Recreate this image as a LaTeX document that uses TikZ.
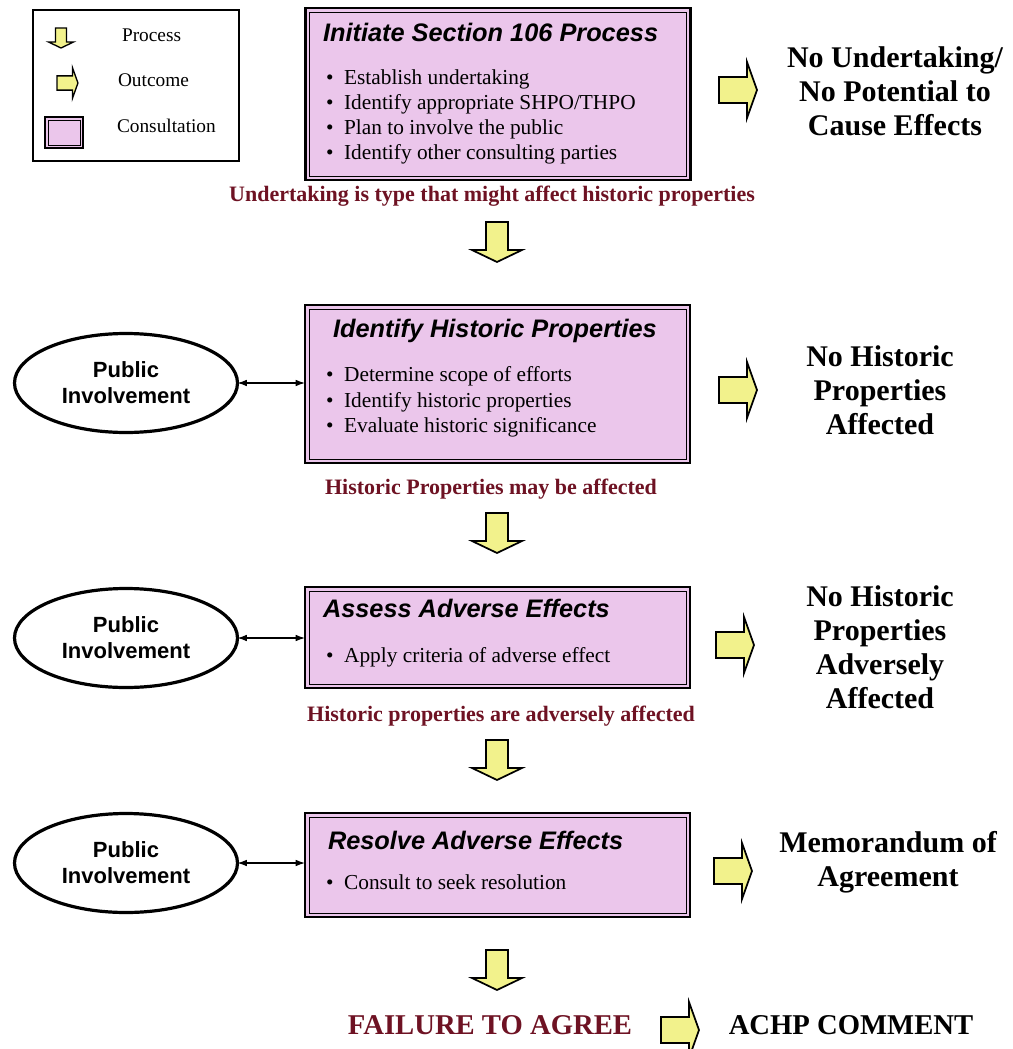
\documentclass[tikz,border=0pt]{standalone}
\usepackage{fontspec}
\setmainfont{Liberation Serif}
\setsansfont{Liberation Sans}
\usetikzlibrary{shapes.geometric,arrows.meta}
\definecolor{boxpink}{RGB}{235,198,235}
\definecolor{maroon}{RGB}{110,18,35}
\definecolor{arrowyel}{RGB}{242,242,140}
\begin{document}
\begin{tikzpicture}[x=0.75pt,y=-0.75pt,
  every node/.style={inner sep=0pt, outer sep=0pt},
  consult/.style={draw, line width=2.2pt, fill=boxpink, minimum width=385*0.75pt},
  ttl/.style={font=\sffamily\bfseries\itshape\fontsize{19}{22}\selectfont, anchor=west, text height=0.72em, text depth=0pt},
  blt/.style={font=\fontsize{16}{19}\selectfont, anchor=west, text height=0.62em, text depth=0pt},
  lbl/.style={font=\bfseries\fontsize{16.5}{19}\selectfont, text=maroon, text height=0.62em, text depth=0pt},
  outc/.style={font=\bfseries\fontsize{22.5}{25.5}\selectfont, align=center},
  pub/.style={ellipse, draw, line width=2.4pt, minimum width=223*0.75pt, minimum height=99*0.75pt, align=center, font=\sffamily\bfseries\fontsize{16.5}{19.5}\selectfont},
  link/.style={{Latex[length=7pt,width=5pt]}-{Latex[length=7pt,width=5pt]}, line width=0.9pt},
  leg/.style={font=\fontsize{14.5}{17}\selectfont, anchor=west, text height=0.66em, text depth=0pt},
  big/.style={font=\bfseries\fontsize{21.5}{24}\selectfont, text height=0.66em, text depth=0pt},
  downarrow/.pic={\draw[fill=arrowyel, line join=miter] (-11,0) -- (11,0) -- (11,28) -- (25,28) -- (0,40) -- (-25,28) -- (-11,28) -- cycle;},
  outarrow/.pic={\draw[fill=arrowyel, line join=miter] (-19,-13) -- (9,-13) -- (9,-28) -- (19,0) -- (9,28) -- (9,13) -- (-19,13) -- cycle;},
]
\useasboundingbox (0,0) rectangle (1013,1049);

% legend
\node[draw, line width=2pt, minimum width=206*0.75pt, minimum height=151*0.75pt] (legend) at (136,85.5) {};
\pic[scale=0.5, line width=1pt] at (61,28) {downarrow};
\pic[scale=0.55, line width=1pt] at (67.5,83) {outarrow};
\node[draw, line width=1.5pt, fill=boxpink, minimum width=38*0.75pt, minimum height=31*0.75pt] (ci) at (64,132.5) {};
\draw[line width=0.5pt] ([shift={(3,3)}]ci.north west) rectangle ([shift={(-3,-3)}]ci.south east);
\node[leg] (lp) at (122,37) {Process};
\node[leg] (lo) at (118,82) {Outcome};
\node[leg] (lc) at (117,128) {Consultation};

% consultation boxes
\node[consult, minimum height=172*0.75pt] (b1) at (498,94) {};
\node[consult, minimum height=158*0.75pt] (b2) at (497.5,384) {};
\node[consult, minimum height=101*0.75pt] (b3) at (497.5,637.5) {};
\node[consult, minimum height=104*0.75pt] (b4) at (497.5,865) {};
\foreach \b in {b1,b2,b3,b4}{
  \draw[line width=0.7pt] ([shift={(4,4)}]\b.north west) rectangle ([shift={(-4,-4)}]\b.south east);
}

\node[ttl] (t1) at (323,37) {Initiate Section 106 Process};
\node[blt] (b1a) at (326,80) {\textbullet\hspace{0.5em}Establish undertaking};
\node[blt] (b1b) at (326,105) {\textbullet\hspace{0.5em}Identify appropriate SHPO/THPO};
\node[blt] (b1c) at (326,130) {\textbullet\hspace{0.5em}Plan to involve the public};
\node[blt] (b1d) at (326,155) {\textbullet\hspace{0.5em}Identify other consulting parties};

\node[ttl] (t2) at (333,333) {Identify Historic Properties};
\node[blt] (b2a) at (326,377) {\textbullet\hspace{0.5em}Determine scope of efforts};
\node[blt] (b2b) at (326,403) {\textbullet\hspace{0.5em}Identify historic properties};
\node[blt] (b2c) at (326,428) {\textbullet\hspace{0.5em}Evaluate historic significance};

\node[ttl] (t3) at (323,613) {Assess Adverse Effects};
\node[blt] (b3a) at (326,658) {\textbullet\hspace{0.5em}Apply criteria of adverse effect};

\node[ttl] (t4) at (328,845) {Resolve Adverse Effects};
\node[blt] (b4a) at (326,885) {\textbullet\hspace{0.5em}Consult to seek resolution};

% labels
\node[lbl] (l1) at (492,197) {Undertaking is type that might affect historic properties};
\node[lbl] (l2) at (491,490) {Historic Properties may be affected};
\node[lbl] (l3) at (501,717) {Historic properties are adversely affected};

% process arrows
\pic[line width=1.3pt] at (497,222) {downarrow};
\pic[line width=1.3pt] at (497,513) {downarrow};
\pic[line width=1.3pt] at (497,740) {downarrow};
\pic[line width=1.3pt] at (497,950) {downarrow};

% public involvement
\node[pub] (pi1) at (126,383) {Public\\Involvement};
\node[pub] (pi2) at (126,638) {Public\\Involvement};
\node[pub] (pi3) at (126,863) {Public\\Involvement};
\draw[link] (pi1.east) -- (pi1.east -| b2.west);
\draw[link] (pi2.east) -- (pi2.east -| b3.west);
\draw[link] (pi3.east) -- (pi3.east -| b4.west);

% outcome arrows
\pic[line width=1.3pt] at (738,90) {outarrow};
\pic[line width=1.3pt] at (738,390) {outarrow};
\pic[line width=1.3pt] at (735,645) {outarrow};
\pic[line width=1.3pt] at (733,871) {outarrow};
\pic[line width=1.3pt] at (680,1030) {outarrow};

% outcomes
\node[outc] (o1) at (895,91) {No Undertaking/\\No Potential to\\Cause Effects};
\node[outc] (o2) at (880,390) {No Historic\\Properties\\Affected};
\node[outc] (o3) at (880,647) {No Historic\\Properties\\Adversely\\Affected};
\node[outc] (o4) at (888,862) {Memorandum of\\Agreement};

\node[big, text=maroon] (fail) at (490,1030) {FAILURE TO AGREE};
\node[big] (achp) at (851,1030) {ACHP COMMENT};
\end{tikzpicture}
\end{document}
